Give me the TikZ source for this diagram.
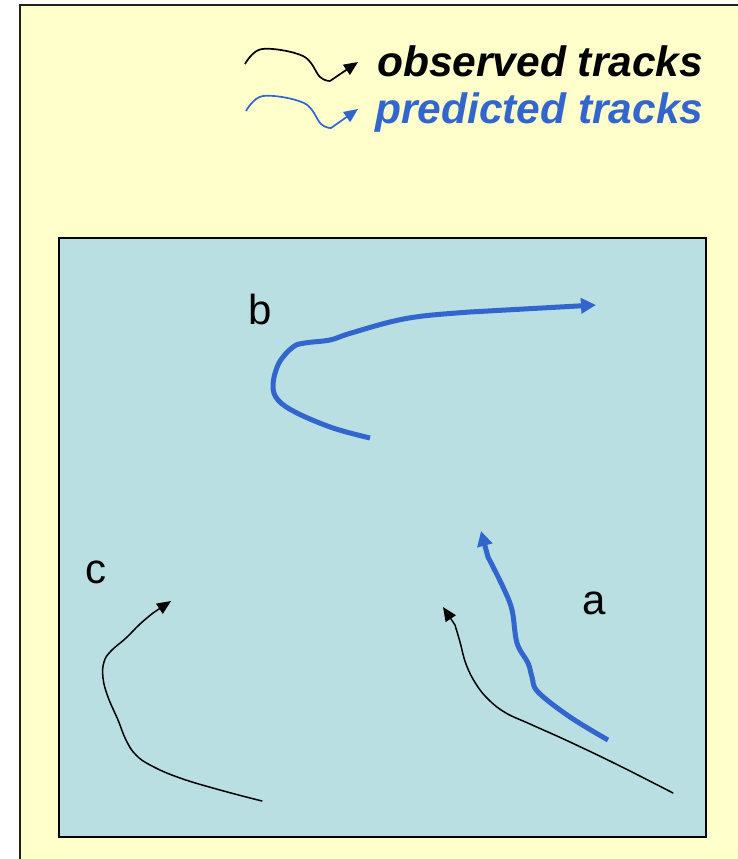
\documentclass[tikz,border=0pt]{standalone}
\usepackage{fontspec}
\setmainfont{Liberation Sans}
\usetikzlibrary{arrows.meta}
\definecolor{paleyellow}{HTML}{FFFFCC}
\definecolor{paleteal}{HTML}{B9DFE3}
\definecolor{trackblue}{HTML}{3366CC}
\definecolor{framegray}{HTML}{222222}
\tikzset{
  obs/.style={draw=black, line width=1.5pt, line cap=round, -{Triangle[length=14pt,width=12pt]}},
  pred/.style={draw=trackblue, line width=5pt, -{Triangle[length=15pt,width=15pt]}},
  legobs/.style={draw=black, line width=1.7pt, -{Triangle[length=14pt,width=12pt]}},
  legpred/.style={draw=trackblue, line width=1.7pt, -{Triangle[length=14pt,width=12pt]}},
  legtext/.style={anchor=base west, inner sep=0pt, font=\fontsize{42.5}{50}\selectfont\bfseries\itshape},
  lbl/.style={inner sep=0pt, font=\fontsize{42}{50}\selectfont}
}
\begin{document}
\begin{tikzpicture}[x=1pt,y=-1pt]
\useasboundingbox (0,0) rectangle (738,859);
\fill[white] (0,0) rectangle (738,859);
% outer frame
\draw[fill=paleyellow, draw=framegray, line width=2pt] (20,5) rectangle (745,870);
% inner box
\draw[fill=paleteal, draw=black, line width=2.5pt] (59,238) rectangle (706,837);
% legend
\draw[legobs] plot[smooth, tension=0.6] coordinates {(245,64) (262,49) (303,56) (320,77) (330,81)} -- (358,62);
\node[legtext] (lo) at (377,76) {observed tracks};
\draw[legpred] plot[smooth, tension=0.6] coordinates {(246,111) (263,96) (304,103) (321,124) (331,128)} -- (358,109);
\node[legtext, text=trackblue] (lp) at (375,123) {predicted tracks};
% track b
\draw[pred] plot[smooth, tension=0.6] coordinates {(370,438) (333,428) (297,413) (278,400) (273,385) (279,363) (293,347) (305,343) (330,340) (348,334) (390,322) (423,316) (470,312)} -- (596,305);
\node[lbl] (b) at (260,309) {b};
% track a predicted
\draw[pred] plot[smooth, tension=0.6] coordinates {(608,740) (570,717) (538,692) (532,677) (528,663) (517,643) (512,610) (503,587) (488,557)} -- (481,531);
% track a observed
\draw[obs] plot[smooth, tension=0.7] coordinates {(673,793) (620,766) (570,742) (530,724) (506,713) (489,700) (476,684) (466,664) (460,642) (455,625)} -- (443,607);
\node[lbl] (a) at (594,603) {a};
% track c
\draw[obs] plot[smooth, tension=0.7] coordinates {(262,801) (220,790) (180,778) (152,766) (136,755) (126,740) (118,720) (108,697) (103,678) (104,662) (111,651) (126,638) (140,624) (153,613)} -- (171,601);
\node[lbl] (c) at (96,572) {c};
\end{tikzpicture}
\end{document}
